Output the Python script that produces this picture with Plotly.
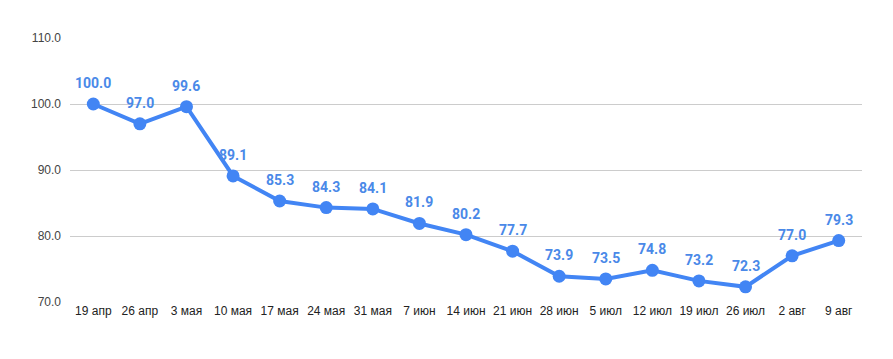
import plotly.graph_objects as go

categories = ["19 апр", "26 апр", "3 мая", "10 мая", "17 мая", "24 мая", "31 мая", "7 июн",
              "14 июн", "21 июн", "28 июн", "5 июл", "12 июл", "19 июл", "26 июл", "2 авг", "9 авг"]
values = [100.0, 97.0, 99.6, 89.1, 85.3, 84.3, 84.1, 81.9, 80.2, 77.7, 73.9, 73.5, 74.8, 73.2, 72.3, 77.0, 79.3]
y_ticks = [70, 80, 90, 100, 110]

fig = go.Figure()
fig.add_trace(go.Scatter(
    x=categories, y=values, mode="lines+markers",
    line=dict(color="#4285F4", width=4),
    marker=dict(color="#4285F4", size=13),
    cliponaxis=False,
    hoverinfo="skip",
))

for c, v in zip(categories, values):
    fig.add_annotation(x=c, y=v, text=f"{v:.1f}", showarrow=False, yshift=21,
                       font=dict(family="Roboto", size=14, color="#4A89E8", weight="bold"))

fig.update_layout(
    width=893, height=359,
    margin=dict(l=62, r=39, t=30, b=65),
    paper_bgcolor="white", plot_bgcolor="white",
    showlegend=False,
    font=dict(family="Arial", size=12, color="#222222"),
    xaxis=dict(type="category", showgrid=False, showline=False, zeroline=False,
               ticks="", tickfont=dict(size=12, color="#222222"), range=[-0.5, len(categories) - 0.5]),
    yaxis=dict(range=[70, 110], tickvals=y_ticks, tickformat=".1f",
               showgrid=True, gridcolor="#CCCCCC", gridwidth=1, zeroline=False,
               showline=False, ticks="", ticklabelstandoff=8,
               tickfont=dict(size=12, color="#444444")),
)

fig.write_html("out.html")
